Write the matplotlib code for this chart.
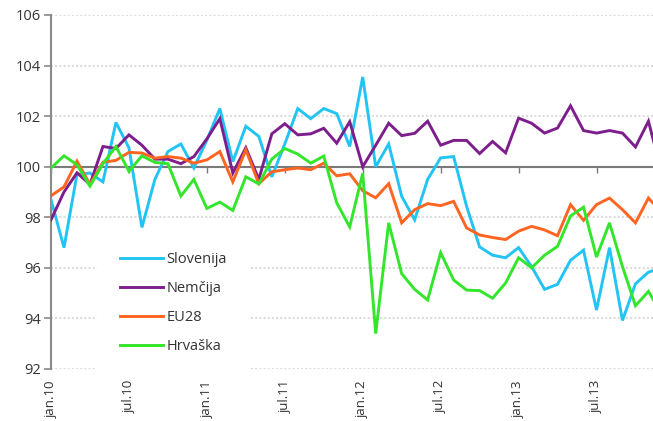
import numpy as np
import matplotlib
matplotlib.use("Agg")
import matplotlib.pyplot as plt

plt.rcParams['font.family'] = ['Open Sans', 'DejaVu Sans']

tick_labels = ["jan.10", "jul.10", "jan.11", "jul.11", "jan.12", "jul.12", "jan.13", "jul.13"]
tick_months = [0, 6, 12, 18, 24, 30, 36, 42]

slovenija = [98.7, 96.8, 99.7, 99.75, 99.4, 101.75, 100.75, 97.6, 99.5, 100.6, 100.9, 99.95,
             101.05, 102.3, 100.2, 101.6, 101.2, 99.6, 100.9, 102.3, 101.9, 102.3, 102.1, 100.8,
             103.55, 100.0, 100.9, 98.83, 97.9, 99.5, 100.35, 100.4, 98.43, 96.83, 96.5, 96.4,
             96.8, 96.05, 95.15, 95.35, 96.3, 96.7, 94.33, 96.8, 93.92, 95.37, 95.83, 96.0]
nemcija = [97.9, 99.0, 99.76, 99.3, 100.8, 100.72, 101.26, 100.85, 100.3, 100.3, 100.12, 100.4,
           101.1, 101.9, 99.75, 100.75, 99.5, 101.3, 101.7, 101.26, 101.3, 101.52, 100.93, 101.78,
           100.0, 100.85, 101.72, 101.23, 101.32, 101.8, 100.85, 101.04, 101.04, 100.52, 101.0, 100.55,
           101.92, 101.72, 101.33, 101.53, 102.41, 101.43, 101.33, 101.43, 101.33, 100.78, 101.8, 99.8]
eu28 = [98.85, 99.2, 100.22, 99.3, 100.18, 100.25, 100.57, 100.54, 100.34, 100.4, 100.34, 100.14,
        100.27, 100.6, 99.4, 100.67, 99.33, 99.8, 99.88, 99.95, 99.88, 100.14, 99.64, 99.72,
        99.05, 98.77, 99.33, 97.78, 98.3, 98.54, 98.46, 98.63, 97.58, 97.3, 97.2, 97.12,
        97.45, 97.64, 97.5, 97.27, 98.5, 97.88, 98.5, 98.76, 98.3, 97.78, 98.76, 98.2]
hrvaska = [99.95, 100.43, 100.08, 99.23, 100.12, 100.8, 99.82, 100.43, 100.17, 100.12, 98.84, 99.5,
           98.35, 98.6, 98.27, 99.6, 99.32, 100.3, 100.72, 100.5, 100.14, 100.42, 98.57, 97.62,
           99.74, 93.4, 97.78, 95.77, 95.15, 94.73, 96.6, 95.52, 95.12, 95.1, 94.8, 95.4,
           96.4, 96.0, 96.5, 96.85, 98.05, 98.4, 96.43, 97.78, 96.05, 94.5, 95.07, 94.2]

series = [("Slovenija", slovenija, "#22c4f4"),
          ("Nemčija", nemcija, "#7d1e8c"),
          ("EU28", eu28, "#ff6420"),
          ("Hrvaška", hrvaska, "#33e62b")]

fig = plt.figure(figsize=(6.53, 4.21), dpi=100)
ax = fig.add_axes([51/653, 1-369/421, 1-51/653, (369-15)/421])

months = np.arange(len(slovenija))
handles = []
for name, vals, col in series:
    h, = ax.plot(months, vals, color=col, lw=2.1, label=name, zorder=3, solid_joinstyle='miter')
    handles.append(h)

ax.set_ylim(92, 106)
ax.set_xlim(0, 46.35)
ax.set_yticks(np.arange(92, 107, 2))
ax.yaxis.grid(True, linestyle=(0, (1, 1)), color="#dcdcdc", lw=1.5, zorder=0)
ax.set_axisbelow(True)

grey = "#8a8a8a"
for s in ["top", "right"]:
    ax.spines[s].set_visible(False)
ax.spines["left"].set_color(grey)
ax.spines["left"].set_linewidth(1.5)
ax.spines["bottom"].set_position(("data", 100))
ax.spines["bottom"].set_color("#7a7a7a")
ax.spines["bottom"].set_linewidth(1.5)
ax.spines["bottom"].set_zorder(2)

ax.set_xticks(tick_months)
ax.tick_params(axis="x", direction="out", length=4, width=1, color="#7a7a7a", labelbottom=False)
ax.tick_params(axis="y", direction="out", length=5, width=1.2, color=grey, labelsize=10.5,
               labelcolor="#333333", pad=2)

sec = ax.secondary_xaxis("bottom")
sec.set_xticks(tick_months)
sec.set_xticklabels(tick_labels, rotation=90, fontsize=9.5, color="#333333")
sec.tick_params(length=0, pad=8)
sec.spines["bottom"].set_visible(False)

leg = ax.legend(handles=handles, loc="upper left", bbox_to_anchor=(97/653, 1-229/421),
                bbox_transform=fig.transFigure, borderaxespad=0, borderpad=1.6,
                fontsize=10.5, handlelength=2.95, handletextpad=0.2, labelspacing=0.95,
                frameon=True, fancybox=False)
leg.get_frame().set_facecolor("white")
leg.get_frame().set_edgecolor("none")
leg.get_frame().set_alpha(1)
for t in leg.get_texts():
    t.set_color("#333333")

fig.savefig("out.png", dpi=100)
